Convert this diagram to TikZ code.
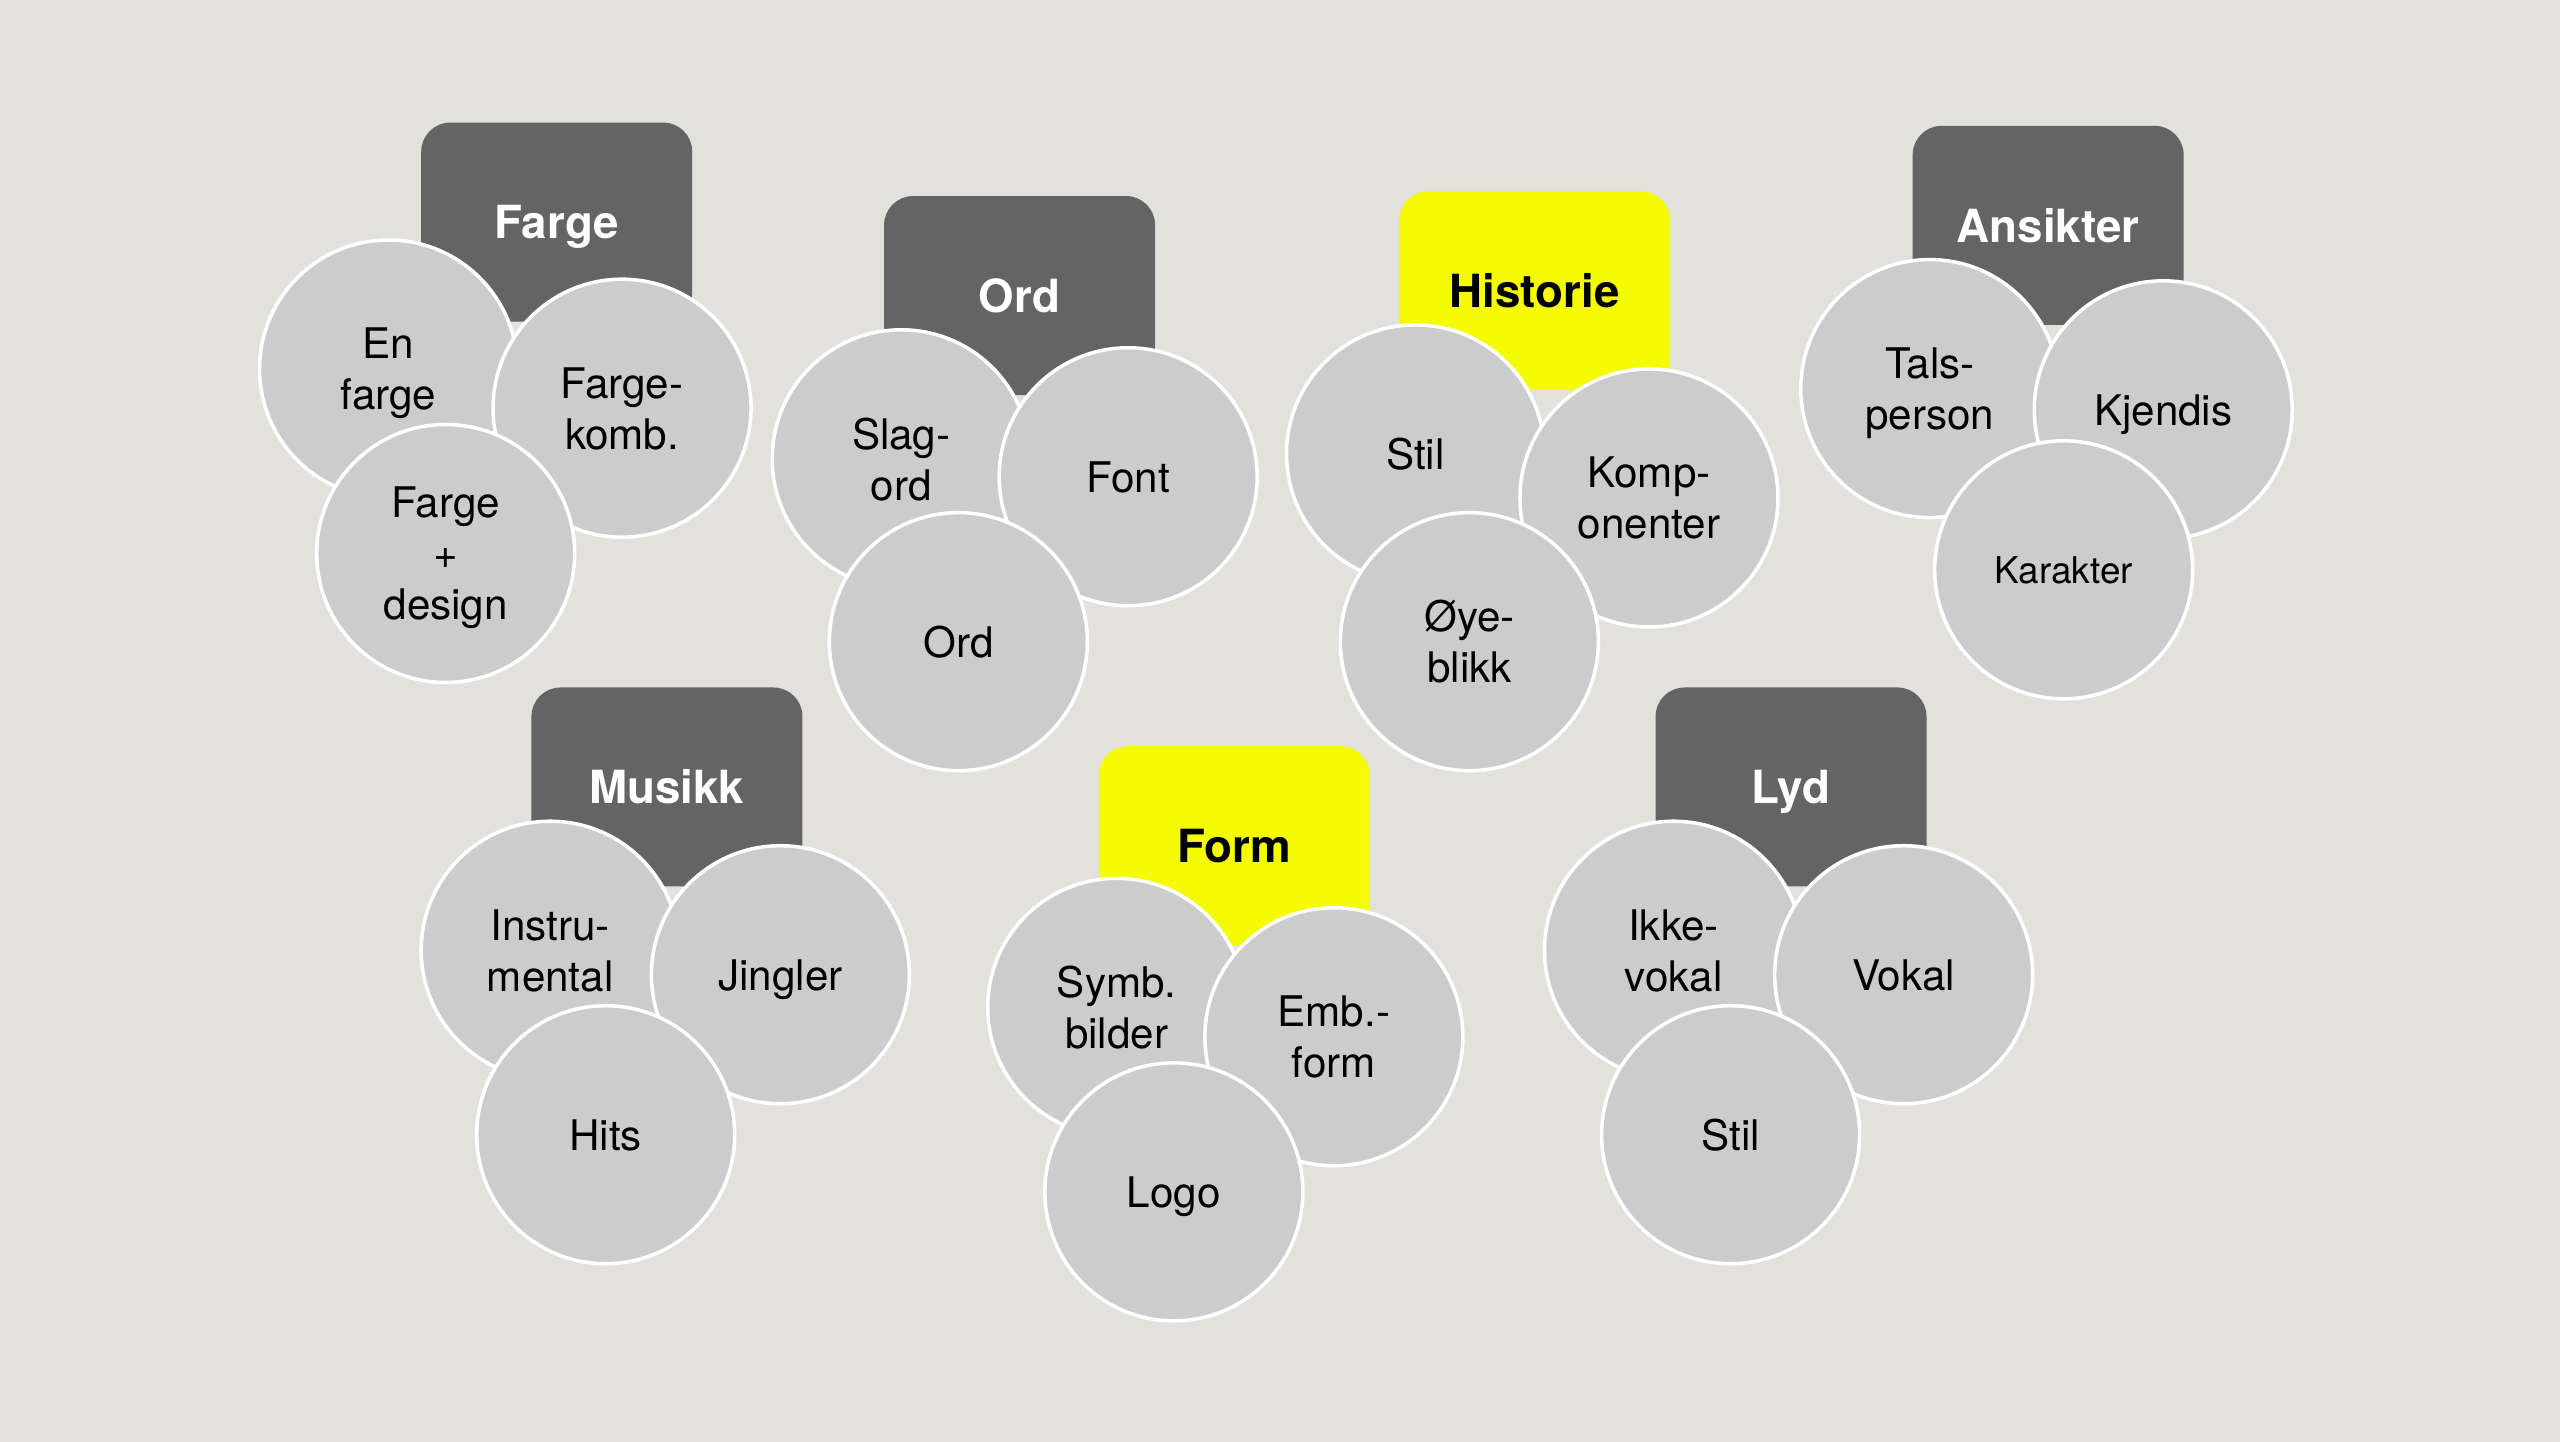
\documentclass[tikz,border=0pt]{standalone}
\usepackage{fontspec}
\setmainfont{TeX Gyre Heros}
\usetikzlibrary{positioning}
\definecolor{bgsand}{RGB}{226,225,220}
\definecolor{catgrey}{RGB}{100,100,100}
\definecolor{catyellow}{RGB}{245,251,0}
\definecolor{itemgrey}{RGB}{204,204,204}

\begin{document}
\begin{tikzpicture}[x=0.016327cm,y=-0.016327cm,
    cat/.style={fill=catgrey,text=white,rounded corners=0.29cm,minimum width=2.71cm,minimum height=1.99cm,text depth=0pt,font=\fontsize{13}{15}\selectfont\bfseries},
    hot/.style={cat,fill=catyellow,text=black},
    item/.style={circle,fill=itemgrey,draw=white,line width=1pt,minimum size=2.58cm,inner sep=0pt,align=center,text depth=0pt,font=\fontsize{12}{14.5}\selectfont}]
        \fill[bgsand] (0,0) rectangle (1568,883);
        \useasboundingbox (0,0) rectangle (1568,883);
        % Farge
        \node[cat] (farge) at (341,136) {Farge};
        \node[item] (enfarge) at (238,226) {En\\farge};
        \node[item] (fkomb) at (381,250) {Farge-\\komb.};
        \node[item] (fdesign) at (273,339) {Farge\\+\\design};
        % Ord
        \node[cat] (ord) at (624.5,181) {Ord};
        \node[item] (slagord) at (552,281) {Slag-\\ord};
        \node[item] (font) at (691,292) {Font};
        \node[item] (ordi) at (587,393) {Ord};
        % Historie
        \node[hot] (historie) at (940,178) {Historie};
        \node[item] (hstil) at (867,278) {Stil};
        \node[item] (komp) at (1010,305) {Komp-\\onenter};
        \node[item] (oyeblikk) at (900,393) {Øye-\\blikk};
        % Ansikter
        \node[cat] (ansikter) at (1254.5,138) {Ansikter};
        \node[item] (tals) at (1182,238) {Tals-\\person};
        \node[item] (kjendis) at (1325,251) {Kjendis};
        \node[item,font=\fontsize{10.5}{13}\selectfont] (karakter) at (1264,349) {Karakter};
        % Musikk
        \node[cat] (musikk) at (408.5,482) {Musikk};
        \node[item] (instru) at (337,582) {Instru-\\mental};
        \node[item] (jingler) at (478,597) {Jingler};
        \node[item] (hits) at (371,695) {Hits};
        % Form
        \node[hot] (form) at (756,518) {Form};
        \node[item] (symb) at (684,617) {Symb.\\bilder};
        \node[item] (emb) at (817,635) {Emb.-\\form};
        \node[item] (logo) at (719,730) {Logo};
        % Lyd
        \node[cat] (lyd) at (1097,482) {Lyd};
        \node[item] (ikke) at (1025,582) {Ikke-\\vokal};
        \node[item] (vokal) at (1166,597) {Vokal};
        \node[item] (lstil) at (1060,695) {Stil};
\end{tikzpicture}
\end{document}
